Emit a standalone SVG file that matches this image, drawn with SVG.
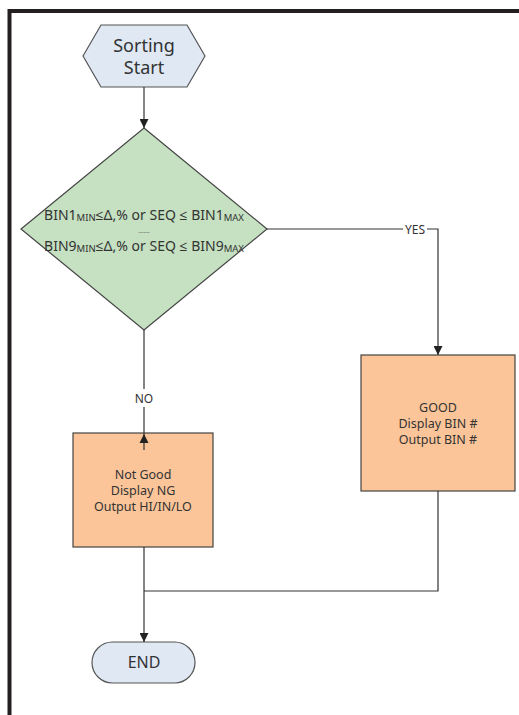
<svg xmlns="http://www.w3.org/2000/svg" width="519" height="715" viewBox="0 0 519 715">
<defs>
<style>
.t{font-family:"Noto Sans","Open Sans","DejaVu Sans",sans-serif;fill:#333;text-anchor:middle;dominant-baseline:central}
.ln{fill:none;stroke:#333;stroke-width:1.2}
.box{fill:#fbc599;stroke:#444;stroke-width:1.2}
.term{fill:#dfe8f3;stroke:#555;stroke-width:1.2}
</style>
<marker id="ah" viewBox="0 0 10 10" refX="10" refY="5" markerWidth="9" markerHeight="9" markerUnits="userSpaceOnUse" orient="auto">
<path d="M0,0 L10,5 L0,10 Z" fill="#222"/>
</marker>
</defs>
<rect width="519" height="715" fill="#fff"/>
<g id="frame">
<line x1="9" y1="11" x2="519" y2="11" stroke="#231f20" stroke-width="4"/>
<line x1="9.5" y1="9" x2="9.5" y2="715" stroke="#231f20" stroke-width="4"/>
</g>
<g id="start">
<polygon class="term" points="83,56 101,25 187,25 205,56 187,87 101,87"/>
<text class="t" x="144" y="45" font-size="18">Sorting</text>
<text class="t" x="144" y="67" font-size="18">Start</text>
</g>
<g id="decision">
<polygon points="144,128 267,229 144,330 21,229" fill="#c5e1c1" stroke="#444" stroke-width="1.2"/>
<text class="t" x="144" y="214" font-size="14">BIN1<tspan font-size="9.5" dy="3">MIN</tspan><tspan dy="-3">≤Δ,% or SEQ ≤ BIN1</tspan><tspan font-size="9.5" dy="3">MAX</tspan></text>
<text class="t" x="144" y="231" font-size="6">.......</text>
<text class="t" x="144" y="245" font-size="14">BIN9<tspan font-size="9.5" dy="3">MIN</tspan><tspan dy="-3">≤Δ,% or SEQ ≤ BIN9</tspan><tspan font-size="9.5" dy="3">MAX</tspan></text>
</g>
<g id="good">
<rect class="box" x="361" y="355" width="154" height="136"/>
<text class="t" x="438" y="407" font-size="12.5">GOOD</text>
<text class="t" x="438" y="423" font-size="12.5">Display BIN #</text>
<text class="t" x="438" y="439" font-size="12.5">Output BIN #</text>
</g>
<g id="notgood">
<rect class="box" x="73" y="433" width="140" height="114"/>
<text class="t" x="143" y="474" font-size="12.5">Not Good</text>
<text class="t" x="143" y="490" font-size="12.5">Display NG</text>
<text class="t" x="143" y="506" font-size="12.5">Output HI/IN/LO</text>
</g>
<g id="end">
<rect class="term" x="92" y="642" width="103" height="41" rx="20.5"/>
<text class="t" x="144" y="662" font-size="16">END</text>
</g>
<g id="connectors">
<line class="ln" x1="144" y1="87" x2="144" y2="128" marker-end="url(#ah)"/>
<polyline class="ln" points="267,229 403,229"/>
<polyline class="ln" points="427,229 438,229 438,355" marker-end="url(#ah)"/>
<text class="t" x="415" y="229" font-size="12">YES</text>
<line class="ln" x1="144" y1="330" x2="144" y2="389"/>
<text class="t" x="144" y="398" font-size="12">NO</text>
<line class="ln" x1="144" y1="450" x2="144" y2="407"/>
<path d="M139.5,443 L144,434 L148.5,443 Z" fill="#222"/>
<line class="ln" x1="144" y1="547" x2="144" y2="642" marker-end="url(#ah)"/>
<polyline class="ln" points="438,491 438,591 144,591"/>
</g>
</svg>
